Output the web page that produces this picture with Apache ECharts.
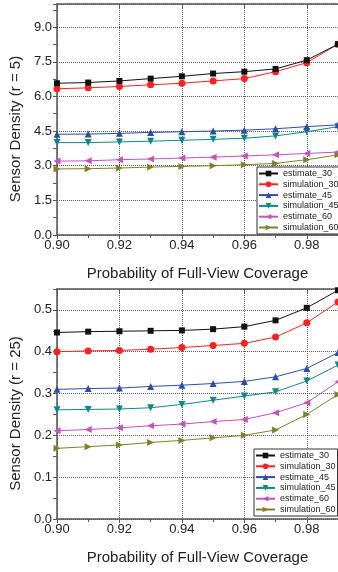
<!DOCTYPE html>
<html>
<head>
<meta charset="utf-8">
<script src="https://cdn.jsdelivr.net/npm/echarts@6/dist/echarts.min.js"></script>
<style>
html,body{margin:0;padding:0;background:#fff;}
#c{width:338px;height:572px;}
</style>
</head>
<body>
<div id="c"></div>
<script>
const xValues = [0.90, 0.91, 0.92, 0.93, 0.94, 0.95, 0.96, 0.97, 0.98, 0.99];
const seriesNames = ['estimate_30', 'simulation_30', 'estimate_45', 'simulation_45', 'estimate_60', 'simulation_60'];

// Top chart (r = 5)
const r5Estimate30   = [6.57, 6.60, 6.67, 6.77, 6.87, 6.99, 7.07, 7.19, 7.57, 8.26];
const r5Simulation30 = [6.33, 6.37, 6.43, 6.50, 6.57, 6.67, 6.77, 7.07, 7.46, 8.26];
const r5Estimate45   = [4.36, 4.37, 4.40, 4.44, 4.47, 4.50, 4.54, 4.60, 4.69, 4.77];
const r5Simulation45 = [4.00, 4.00, 4.03, 4.06, 4.10, 4.14, 4.19, 4.29, 4.47, 4.69];
const r5Estimate60   = [3.20, 3.21, 3.26, 3.29, 3.33, 3.37, 3.42, 3.47, 3.53, 3.59];
const r5Simulation60 = [2.86, 2.87, 2.90, 2.94, 2.97, 3.00, 3.04, 3.10, 3.26, 3.47];

// Bottom chart (r = 25)
const r25Estimate30   = [0.446, 0.448, 0.449, 0.450, 0.451, 0.454, 0.460, 0.475, 0.505, 0.547];
const r25Simulation30 = [0.400, 0.402, 0.403, 0.406, 0.410, 0.415, 0.420, 0.435, 0.469, 0.519];
const r25Estimate45   = [0.310, 0.312, 0.313, 0.317, 0.320, 0.324, 0.329, 0.340, 0.360, 0.398];
const r25Simulation45 = [0.261, 0.262, 0.263, 0.266, 0.274, 0.284, 0.294, 0.304, 0.330, 0.368];
const r25Estimate60   = [0.211, 0.214, 0.218, 0.223, 0.227, 0.233, 0.238, 0.254, 0.278, 0.328];
const r25Simulation60 = [0.169, 0.173, 0.177, 0.183, 0.188, 0.194, 0.200, 0.213, 0.250, 0.298];

const colors = ['#111111', '#ff1f1f', '#2d4ca8', '#0b8a85', '#c652bb', '#808026'];
const symbols = ['rect', 'circle', 'triangle', 'triangle', 'triangle', 'triangle'];
const rotations = [0, 0, 0, 180, 90, -90];
const sizes = [6, 7, 7, 7, 7, 7];

const chart = echarts.init(document.getElementById('c'), null, {renderer: 'canvas'});

const axisColor = '#555';
const font = 'Liberation Sans, Arial, sans-serif';

function makeX(gridIndex, gap) {
  return [{
    type: 'value', gridIndex, min: 0.90, max: 0.99, interval: 0.02,
    position: 'bottom',
    name: 'Probability of Full-View Coverage', nameLocation: 'middle', nameGap: gap,
    nameTextStyle: {fontSize: 15, color: '#222', fontFamily: font},
    axisLine: {show: true, onZero: false, lineStyle: {color: axisColor, width: 1.5}},
    axisTick: {show: true, inside: false, length: 4, lineStyle: {color: axisColor}},
    minorTick: {show: true, splitNumber: 2, length: 3, lineStyle: {color: axisColor}},
    axisLabel: {show: true, margin: 4, fontSize: 13, color: '#222', fontFamily: font, showMaxLabel: false,
      formatter: v => v.toFixed(2)},
    splitLine: {show: true, lineStyle: {color: '#555', type: [1, 1], width: 1}}
  }, {
    type: 'value', gridIndex, min: 0.90, max: 0.99, interval: 0.02,
    position: 'top',
    axisLine: {show: true, onZero: false, lineStyle: {color: axisColor, width: 1.5}},
    axisTick: {show: true, inside: true, length: 4, lineStyle: {color: axisColor}},
    minorTick: {show: false},
    axisLabel: {show: false},
    splitLine: {show: false}
  }];
}

function makeY(gridIndex, name, max, interval, digits, gap) {
  return {
    type: 'value', gridIndex, min: 0, max, interval,
    name, nameLocation: 'middle', nameGap: gap,
    nameTextStyle: {fontSize: 15, color: '#222', fontFamily: font, padding: [0, 19, 0, 0]},
    axisLine: {show: true, lineStyle: {color: axisColor, width: 1.5}},
    axisTick: {show: true, inside: false, length: 4, lineStyle: {color: axisColor}},
    minorTick: {show: true, splitNumber: 2, length: 4, lineStyle: {color: axisColor}},
    axisLabel: {margin: 5, fontSize: 13, color: '#222', fontFamily: font, showMaxLabel: false,
      formatter: v => v.toFixed(digits)},
    splitLine: {show: true, lineStyle: {color: '#555', type: [1, 1], width: 1}}
  };
}

const topData = [r5Estimate30, r5Simulation30, r5Estimate45, r5Simulation45, r5Estimate60, r5Simulation60];
const botData = [r25Estimate30, r25Simulation30, r25Estimate45, r25Simulation45, r25Estimate60, r25Simulation60];

const series = [];
function addSeries(dataSets, xAxisIndex, yAxisIndex) {
  dataSets.forEach((arr, i) => {
    series.push({
      type: 'line', name: seriesNames[i], xAxisIndex, yAxisIndex,
      data: xValues.map((x, k) => [x, arr[k]]),
      symbol: symbols[i], symbolSize: sizes[i], symbolRotate: rotations[i],
      showAllSymbol: true, clip: false,
      lineStyle: {color: colors[i], width: 1},
      itemStyle: {color: colors[i]},
      emphasis: {disabled: true},
      z: 10 - i
    });
  });
}
addSeries(topData, 0, 0);
addSeries(botData, 2, 1);

const legendCommon = {
  orient: 'vertical',
  data: seriesNames,
  itemWidth: 19, itemHeight: 7, itemGap: 1.8, itemTextGap: 2,
  padding: [2, 2, 2, 1],
  borderColor: '#333', borderWidth: 1, backgroundColor: '#fff',
  textStyle: {fontSize: 9, color: '#222', fontFamily: font},
  selectedMode: false
};

chart.setOption({
  animation: false,
  backgroundColor: '#fff',
  grid: [
    {left: 54, right: -1, top: 4, height: 231},
    {left: 56, right: -1, top: 289, height: 230}
  ],
  xAxis: [...makeX(0, 31), ...makeX(1, 31)],
  yAxis: [
    makeY(0, 'Sensor Density (r = 5)', 10, 1.5, 1, 29),
    makeY(1, 'Sensor Density (r = 25)', 0.55, 0.1, 1, 33)
  ],
  legend: [
    Object.assign({}, legendCommon, {left: 257, top: 167, z: 20}),
    Object.assign({}, legendCommon, {left: 254, top: 449, z: 20})
  ],
  series
});
</script>
</body>
</html>
